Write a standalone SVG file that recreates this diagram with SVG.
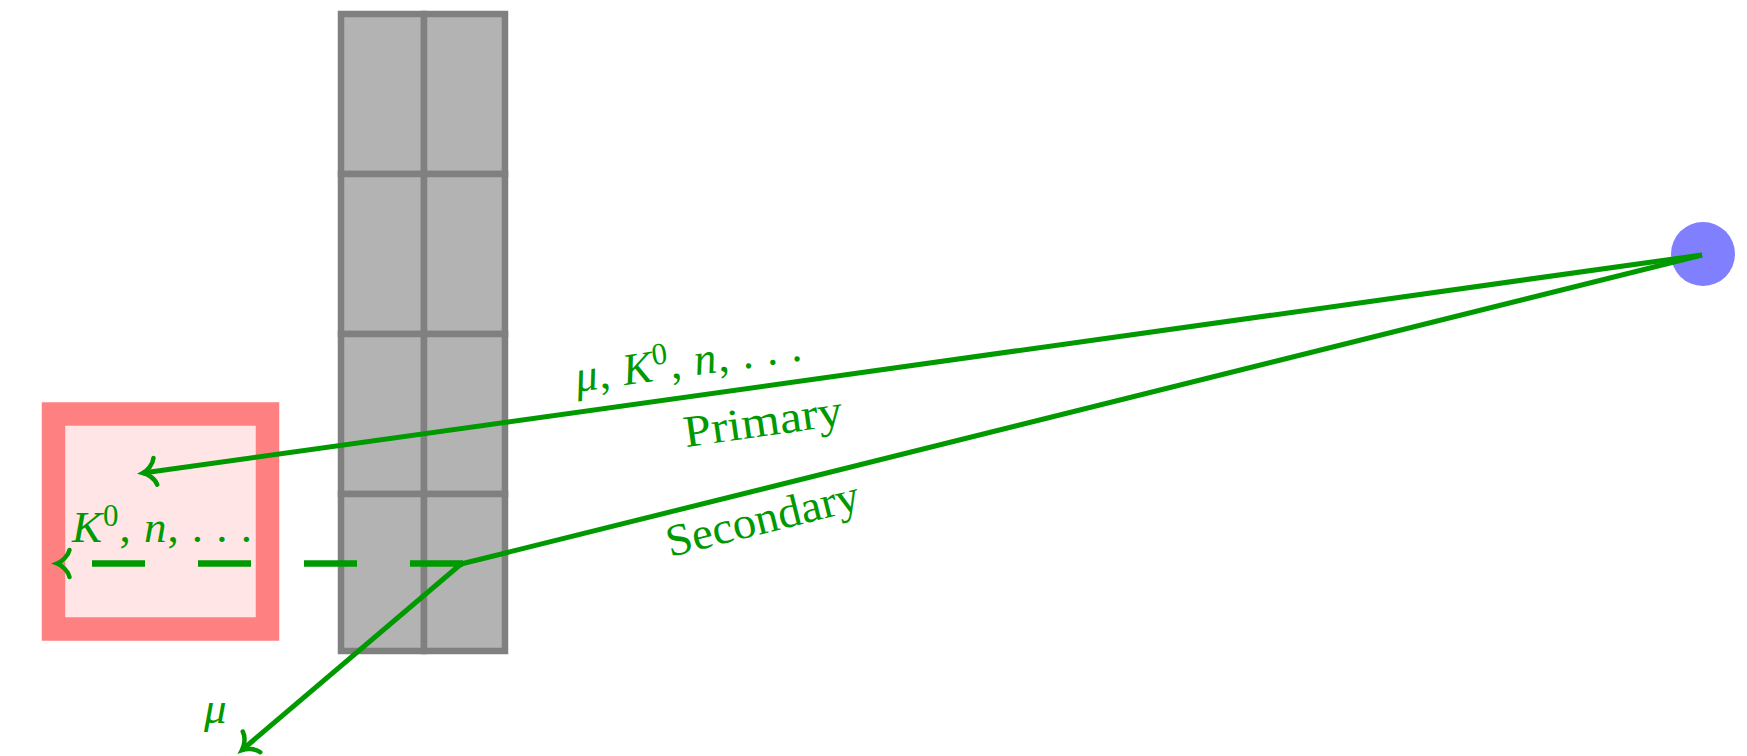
<svg xmlns="http://www.w3.org/2000/svg" width="1747" height="756" viewBox="0 0 1747 756">
  <style>
    .cell { fill: #b3b3b3; stroke: #808080; stroke-width: 6.5; }
    .wire { fill: none; stroke: #009900; stroke-width: 5; stroke-linecap: butt; }
    .dash { fill: none; stroke: #009900; stroke-width: 6.5; stroke-dasharray: 53 53; }
    .lbl { font-family: "Liberation Serif", "Times New Roman", serif; font-size: 45px; fill: #009900; }
    .it { font-style: italic; }
  </style>
  <defs>
    <marker id="arr" markerUnits="userSpaceOnUse" viewBox="-18 -18 22 36" markerWidth="22" markerHeight="36" refX="0" refY="0" orient="auto" overflow="visible">
      <path d="M -12.5,-13.5 C -11,-7 -4.5,-1.8 0,0 C -4.5,1.8 -11,7 -12.5,13.5" fill="none" stroke="#009900" stroke-width="4.5" stroke-linecap="round"/>
    </marker>
  </defs>

  <g id="tower">
    <rect class="cell" x="341" y="14" width="83" height="160"/>
    <rect class="cell" x="424" y="14" width="81" height="160"/>
    <rect class="cell" x="341" y="174" width="83" height="160"/>
    <rect class="cell" x="424" y="174" width="81" height="160"/>
    <rect class="cell" x="341" y="334" width="83" height="160"/>
    <rect class="cell" x="424" y="334" width="81" height="160"/>
    <rect class="cell" x="341" y="494" width="83" height="157"/>
    <rect class="cell" x="424" y="494" width="81" height="157"/>
  </g>

  <g id="detector">
    <rect x="53.5" y="414" width="214" height="215" fill="#ffe5e5" stroke="#ff8080" stroke-width="23.5"/>
  </g>

  <g id="source">
    <circle cx="1703" cy="254" r="32" fill="#8080ff"/>
  </g>

  <g id="connectors">
    <path id="primary" class="wire" d="M 1702 255 L 143 473" marker-end="url(#arr)"/>
    <path id="secondary" class="wire" d="M 1702 255 L 461 564"/>
    <path id="mu-track" class="wire" d="M 461 564 L 242 750" marker-end="url(#arr)"/>
    <path id="neutral-track" class="dash" d="M 463 563.5 L 57 563.5" marker-end="url(#arr)"/>
  </g>

  <g id="labels">
    <text class="lbl" x="577" y="392" textLength="228" transform="rotate(-8 577 392)"><tspan class="it">μ</tspan>, <tspan class="it">K</tspan><tspan dy="-16" font-size="31">0</tspan><tspan dy="16">, </tspan><tspan class="it">n</tspan>, . . .</text>
    <text class="lbl" x="765" y="436" text-anchor="middle" textLength="160" lengthAdjust="spacingAndGlyphs" transform="rotate(-8 765 436)">Primary</text>
    <text class="lbl" x="766" y="533" text-anchor="middle" textLength="198" lengthAdjust="spacingAndGlyphs" transform="rotate(-14 766 533)">Secondary</text>
    <text class="lbl" x="72" y="542" textLength="180"><tspan class="it">K</tspan><tspan dy="-16" font-size="31">0</tspan><tspan dy="16">, </tspan><tspan class="it">n</tspan>, . . .</text>
    <text class="lbl it" x="204" y="723">μ</text>
  </g>
</svg>
